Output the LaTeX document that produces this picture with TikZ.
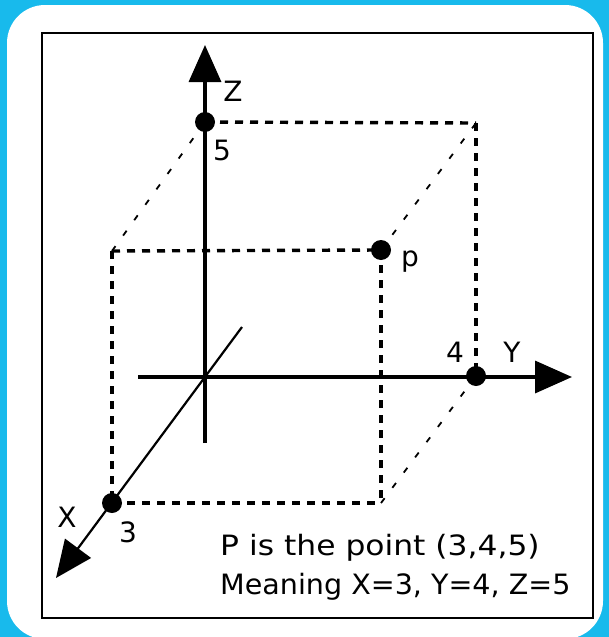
\documentclass[tikz,border=0pt]{standalone}
\usepackage{fontspec}
\setmainfont{DejaVu Sans}
\usepackage{graphicx}
\usetikzlibrary{arrows.meta}
\definecolor{framebg}{RGB}{24,186,236}
\begin{document}
\begin{tikzpicture}[x=1pt,y=-1pt,
  axisline/.style={line width=3.5pt,-{Triangle[length=37pt,width=32pt]}},
  xaxisline/.style={line width=2.2pt,-{Triangle[length=37pt,width=32pt]}},
  edgedash/.style={line width=3.4pt,dash pattern=on 8pt off 7pt},
  diagdash/.style={line width=1.8pt,dash pattern=on 6pt off 13pt},
  dot/.style={circle,fill=black,inner sep=0pt,minimum size=20pt},
  lbl/.style={font=\fontsize{28}{32}\selectfont,inner sep=0pt},
  caption/.style={font=\fontsize{28}{32}\selectfont,inner sep=0pt,anchor=base west}
]
\useasboundingbox (0,0) rectangle (609,637);
\fill[framebg] (0,0) rectangle (609,637);
\fill[white,rounded corners=38pt] (7,5) rectangle (603,639);
\draw[line width=2.2pt] (42,33) rectangle (593,618);

% corner points
\coordinate (O) at (205,377);
\coordinate (Zb) at (205,443);
\coordinate (Zt) at (205,45);
\coordinate (Yl) at (138,377);
\coordinate (Yt) at (572,377);
\coordinate (Xu) at (242,327);
\coordinate (Xt) at (56,578);
\coordinate (B) at (476,123);
\coordinate (F) at (112,251);
\coordinate (G) at (381,503);
\coordinate (c5) at (205,122);
\coordinate (cP) at (381,250);
\coordinate (c4) at (476,376);
\coordinate (c3) at (112,503);

% dashed box
\draw[edgedash] (c5) -- (B);
\draw[edgedash] (B) -- (c4);
\draw[edgedash] (F) -- (cP);
\draw[edgedash] (F) -- (c3);
\draw[edgedash] (cP) -- (G);
\draw[edgedash] (c3) -- (G);
\draw[diagdash] (F) -- (c5);
\draw[diagdash] (cP) -- (B);
\draw[diagdash] (G) -- (c4);

% axes
\draw[axisline] (Zb) -- (Zt);
\draw[axisline] (Yl) -- (Yt);
\draw[xaxisline] (Xu) -- (Xt);

% dots
\node[dot] (P5) at (c5) {};
\node[dot] (PP) at (cP) {};
\node[dot] (P4) at (c4) {};
\node[dot] (P3) at (c3) {};

% labels
\node[lbl] (lz) at (233,91) {Z};
\node[lbl] (l5) at (222,150) {5};
\node[lbl] (lp) at (410,262) {p};
\node[lbl] (l4) at (455,352) {4};
\node[lbl] (ly) at (512,352) {Y};
\node[lbl] (lx) at (67,517) {X};
\node[lbl] (l3) at (128,532) {3};

\node[caption] (t1) at (220,555) {\scalebox{1.12}[1]{P is the point (3,4,5)}};
\node[caption] (t2) at (220,594) {\scalebox{1.02}[1]{Meaning X=3, Y=4, Z=5}};
\end{tikzpicture}
\end{document}
